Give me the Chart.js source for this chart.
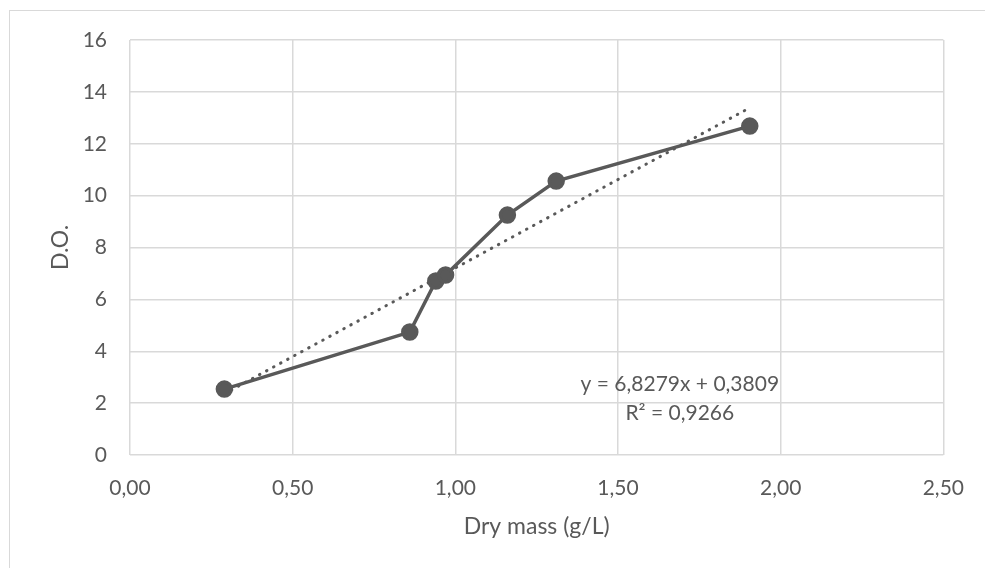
<!DOCTYPE html>
<html>
<head>
<meta charset="utf-8">
<script src="https://cdn.jsdelivr.net/npm/chart.js@4/dist/chart.umd.min.js"></script>
<style>
  html, body { margin: 0; padding: 0; background: #fff; }
  #wrap { position: relative; width: 985px; height: 568px; overflow: hidden; }
  #frame { position: absolute; left: 9px; top: 10px; width: 990px; height: 600px; border: 1px solid #d9d9d9; box-sizing: border-box; }
  canvas { position: absolute; left: 0; top: 0; }
</style>
</head>
<body>
<div id="wrap">
  <div id="frame"></div>
  <canvas id="c" width="985" height="568"></canvas>
</div>
<script>
// Data
const dryMass = [0.29, 0.86, 0.94, 0.97, 1.16, 1.31, 1.905];
const opticalDensity = [2.54, 4.74, 6.71, 6.94, 9.25, 10.56, 12.68];
// Linear trendline as stated on the chart
const trendSlope = 6.8279;
const trendIntercept = 0.3809;
const trendLabel = ["y = 6,8279x + 0,3809", "R² = 0,9266"];
const xTicks = [0, 0.5, 1, 1.5, 2, 2.5];
const yTicks = [0, 2, 4, 6, 8, 10, 12, 14, 16];
const xTitle = "Dry mass (g/L)";
const yTitle = "D.O.";

const points = dryMass.map((x, i) => ({ x: x, y: opticalDensity[i] }));
const xMin = Math.min(...dryMass), xMax = Math.max(...dryMass);
const trendPoints = [xMin, xMax].map(x => ({ x: x, y: trendSlope * x + trendIntercept }));

const grey = '#595959';
const gridCol = '#d9d9d9';
const FONT = 'Lato, "Open Sans", sans-serif';

const labelPlugin = {
  id: 'eqLabel',
  afterDatasetsDraw(chart) {
    const a = chart.chartArea;
    const ctx = chart.ctx;
    ctx.save();
    ctx.fillStyle = grey;
    ctx.font = '21px ' + FONT;
    ctx.textAlign = 'center';
    ctx.textBaseline = 'middle';
    const cx = a.left + (a.right - a.left) * 0.676;
    ctx.fillText(trendLabel[0], cx, a.top + (a.bottom - a.top) * 0.829);
    ctx.fillText(trendLabel[1], cx, a.top + (a.bottom - a.top) * 0.899);
    ctx.restore();
  }
};

new Chart(document.getElementById('c'), {
  type: 'scatter',
  data: {
    datasets: [
      {
        data: trendPoints,
        showLine: true,
        borderColor: grey,
        borderWidth: 3,
        borderDash: [0.5, 7.5],
        borderCapStyle: 'round',
        pointRadius: 0,
        fill: false,
        order: 2
      },
      {
        data: points,
        showLine: true,
        borderColor: grey,
        borderWidth: 3.5,
        backgroundColor: grey,
        pointBackgroundColor: grey,
        pointBorderColor: grey,
        pointRadius: 7,
        fill: false,
        order: 1
      }
    ]
  },
  options: {
    responsive: false,
    animation: false,
    layout: { padding: { left: 0, top: 40, right: 40, bottom: 0 } },
    plugins: { legend: { display: false }, tooltip: { enabled: false } },
    scales: {
      x: {
        type: 'linear',
        min: 0, max: 2.5,
        afterBuildTicks(s) { s.ticks = xTicks.map(v => ({ value: v })); },
        afterFit(s) { s.height = 113; },
        grid: { color: gridCol, lineWidth: 1.5, drawTicks: false },
        border: { display: false },
        ticks: {
          color: grey, padding: 21,
          font: { family: FONT, size: 21 },
          callback: v => v.toFixed(2).replace('.', ','),
          maxRotation: 0
        },
        title: { display: true, text: xTitle, color: grey, font: { family: FONT, size: 23 }, padding: 28 }
      },
      y: {
        type: 'linear',
        min: 0, max: 16,
        afterBuildTicks(s) { s.ticks = yTicks.map(v => ({ value: v })); },
        afterFit(s) { s.width = 130; },
        grid: { color: gridCol, lineWidth: 1.5, drawTicks: false },
        border: { display: false },
        ticks: {
          color: grey, padding: 23,
          font: { family: FONT, size: 21 },
          callback: v => String(v)
        },
        title: { display: true, text: yTitle, color: grey, font: { family: FONT, size: 23 }, padding: 47 }
      }
    }
  },
  plugins: [labelPlugin]
});
</script>
</body>
</html>
